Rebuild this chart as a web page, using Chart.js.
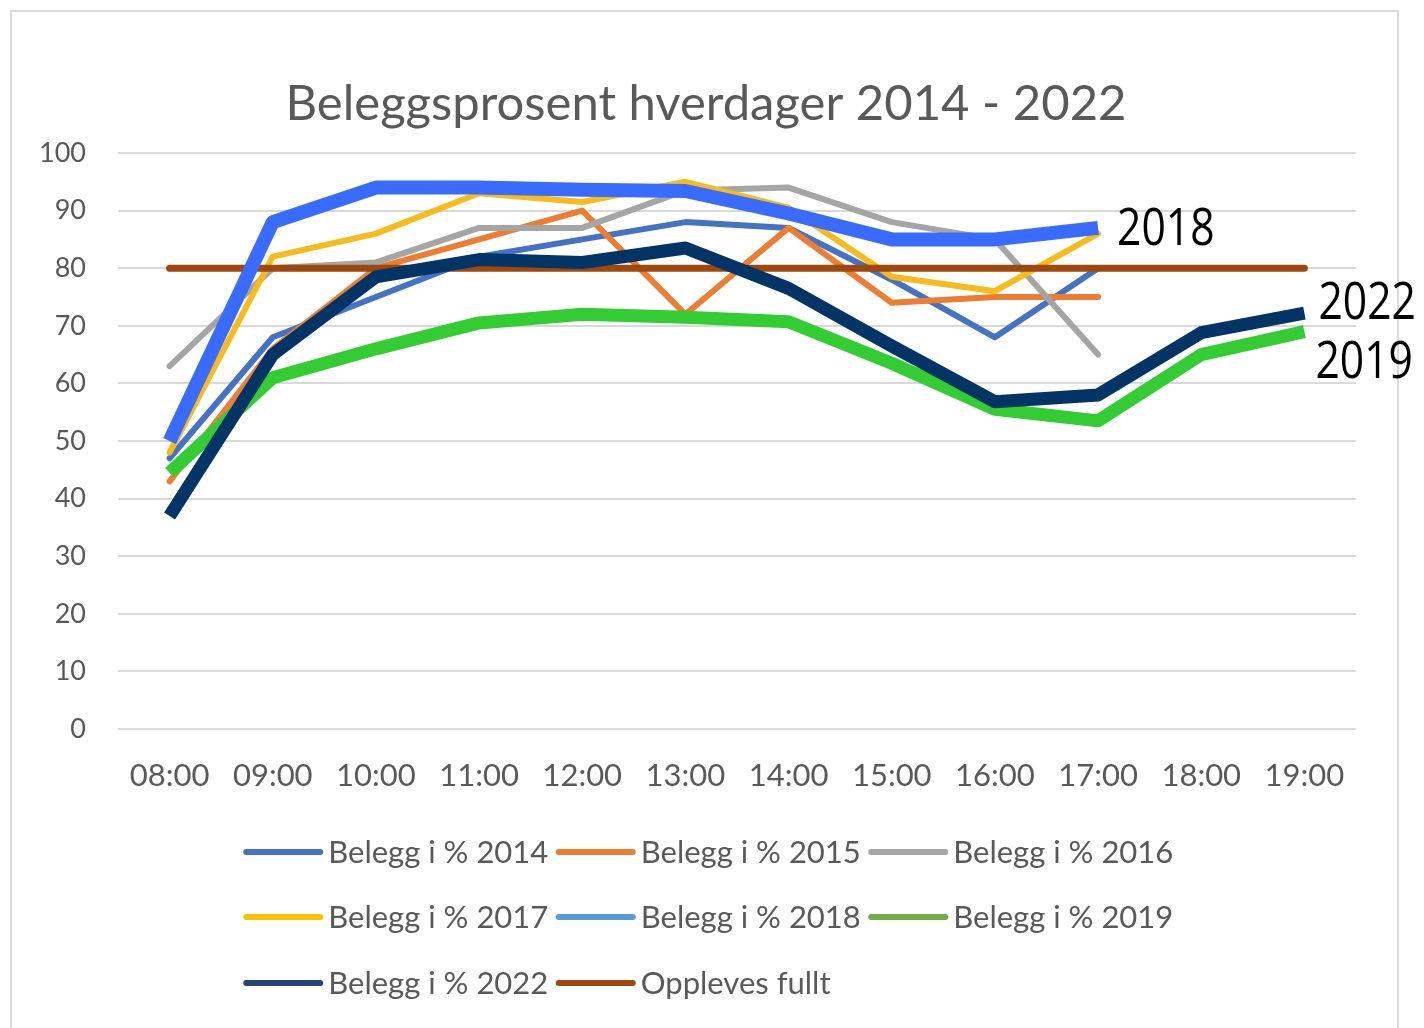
<!DOCTYPE html>
<html>
<head>
<meta charset="utf-8">
<script src="https://cdn.jsdelivr.net/npm/chart.js@4.4.1/dist/chart.umd.min.js"></script>
<style>
  html, body { margin: 0; padding: 0; background: #ffffff; }
  #wrap { position: relative; width: 1424px; height: 1028px; overflow: hidden; }
  #frame { position: absolute; left: 10px; top: 10px; width: 1389px; height: 1040px; border: 2px solid #DADADA; box-sizing: border-box; }
  canvas { position: absolute; left: 0; top: 0; }
</style>
</head>
<body>
<div id="wrap">
  <div id="frame"></div>
  <canvas id="c" width="1424" height="1028"></canvas>
</div>
<script>
const titleText = 'Beleggsprosent hverdager 2014 - 2022';
const labels = ['08:00','09:00','10:00','11:00','12:00','13:00','14:00','15:00','16:00','17:00','18:00','19:00'];
const yTicks = [0,10,20,30,40,50,60,70,80,90,100];

const belegg2014 = [47, 68, 75, 82, 85, 88, 87, 78, 68, 80, null, null];
const belegg2015 = [43, 66, 80, 85, 90, 72, 87, 74, 75, 75, null, null];
const belegg2016 = [63, 80, 81, 87, 87, 93.5, 94, 88, 85, 65, null, null];
const belegg2017 = [48, 82, 86, 93, 91.5, 95, 90.5, 78.5, 76, 86, null, null];
const belegg2018 = [50, 88, 94, 94, 93.6, 93.4, 89.5, 85, 85, 87, null, null];
const belegg2019 = [44.5, 61, 66, 70.5, 72, 71.5, 70.7, 63.5, 55.5, 53.5, 65, 69];
const belegg2022 = [37, 65, 78.5, 81.5, 81, 83.5, 76.5, 66.5, 56.8, 58, 68.8, 72.2];
const oppleves   = [80, 80, 80, 80, 80, 80, 80, 80, 80, 80, 80, 80];

const seriesNames = ['Belegg i % 2014','Belegg i % 2015','Belegg i % 2016','Belegg i % 2017','Belegg i % 2018','Belegg i % 2019','Belegg i % 2022','Oppleves fullt'];
const lineColors   = ['#4472C4','#ED7D31','#A5A5A5','#F7BC1C','#3A6BFF','#33CC33','#033466','#9E480E'];
const legendColors = ['#4472C4','#ED7D31','#A5A5A5','#FFC000','#5B9BD5','#70AD47','#264478','#9E480E'];
const lineWidths   = [6, 6, 6, 6, 14, 13, 13, 7];
const drawOrder    = [8, 7, 6, 5, 1, 3, 2, 4];
const endLabels    = [null, null, null, null, '2018', '2019', '2022', null];
const seriesData = [belegg2014, belegg2015, belegg2016, belegg2017, belegg2018, belegg2019, belegg2022, oppleves];

const datasets = seriesData.map((d, i) => ({
  label: seriesNames[i],
  data: d,
  borderColor: lineColors[i],
  backgroundColor: lineColors[i],
  borderWidth: lineWidths[i],
  pointRadius: 0,
  pointHoverRadius: 0,
  tension: 0,
  fill: false,
  spanGaps: false,
  borderJoinStyle: 'round',
  borderCapStyle: lineWidths[i] > 10 ? 'butt' : 'round',
  order: drawOrder[i]
}));

const titlePlugin = {
  id: 'customTitle',
  afterDraw(chart) {
    const ctx = chart.ctx;
    ctx.save();
    ctx.font = '49px Lato';
    ctx.fillStyle = '#595959';
    ctx.textAlign = 'center';
    ctx.textBaseline = 'middle';
    ctx.fillText(titleText, 706, 104);
    ctx.restore();
  }
};

const endLabelPlugin = {
  id: 'endLabels',
  afterDatasetsDraw(chart) {
    const ctx = chart.ctx;
    const offsets = { '2018': [19, 0], '2022': [14, -11], '2019': [11, 30] };
    chart.data.datasets.forEach((ds, i) => {
      const txt = endLabels[i];
      if (!txt) return;
      const meta = chart.getDatasetMeta(i);
      let last = -1;
      ds.data.forEach((v, k) => { if (v !== null) last = k; });
      const pt = meta.data[last];
      const off = offsets[txt];
      ctx.save();
      ctx.font = '52px "Open Sans"';
      ctx.fillStyle = '#000000';
      ctx.textBaseline = 'middle';
      ctx.textAlign = 'left';
      ctx.translate(pt.x + off[0], pt.y + off[1]);
      ctx.scale(0.82, 1);
      ctx.fillText(txt, 0, 2);
      ctx.restore();
    });
  }
};

const legendPlugin = {
  id: 'customLegend',
  afterDraw(chart) {
    const ctx = chart.ctx;
    const rowsY = [852, 917, 983];
    const colW = 312.5;
    const startX = (chart.width - colW * 3) / 2;
    ctx.save();
    ctx.font = '31px Lato';
    ctx.textBaseline = 'middle';
    ctx.textAlign = 'left';
    chart.data.datasets.forEach((ds, i) => {
      const row = Math.floor(i / 3), col = i % 3;
      const x = startX + col * colW;
      const y = rowsY[row];
      ctx.strokeStyle = legendColors[i];
      ctx.lineWidth = 6;
      ctx.lineCap = 'round';
      ctx.beginPath();
      ctx.moveTo(x + 3, y);
      ctx.lineTo(x + 77, y);
      ctx.stroke();
      ctx.fillStyle = '#595959';
      ctx.fillText(ds.label, x + 85, y + 1);
    });
    ctx.restore();
  }
};

new Chart(document.getElementById('c'), {
  type: 'line',
  data: { labels: labels, datasets: datasets },
  plugins: [titlePlugin, endLabelPlugin, legendPlugin],
  options: {
    responsive: false,
    animation: false,
    layout: { padding: { left: 0, right: 68, top: 153, bottom: 229 } },
    plugins: {
      legend: { display: false },
      tooltip: { enabled: false },
      title: { display: false }
    },
    scales: {
      x: {
        offset: true,
        grid: { display: false, drawTicks: false },
        border: { display: false },
        ticks: { color: '#595959', font: { family: 'Lato', size: 31 }, padding: 28, maxRotation: 0, autoSkip: false },
        afterFit(scale) { scale.height = 70; }
      },
      y: {
        min: 0, max: 100,
        afterBuildTicks(scale) { scale.ticks = yTicks.map(v => ({ value: v })); },
        grid: { color: '#D9D9D9', lineWidth: 2, drawTicks: false },
        border: { display: false },
        ticks: { color: '#595959', font: { family: 'Lato', size: 27 }, padding: 32 },
        afterFit(scale) { scale.width = 118; }
      }
    }
  }
});
</script>
</body>
</html>
